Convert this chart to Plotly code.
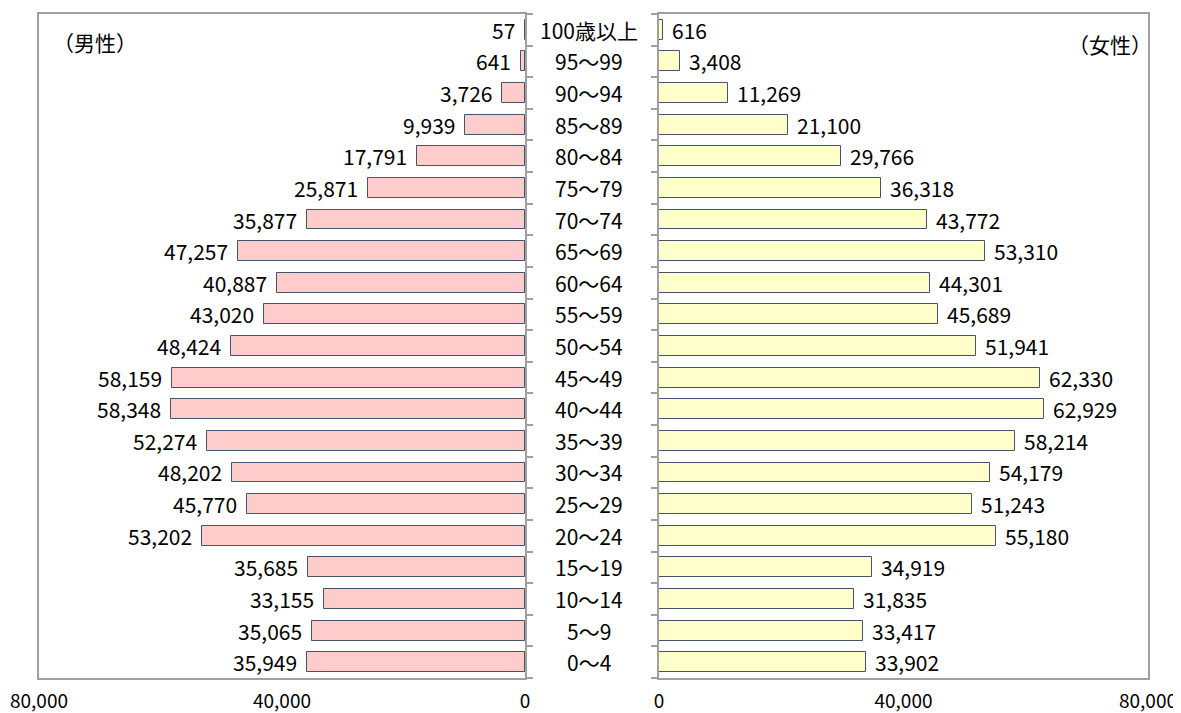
import plotly.graph_objects as go

age_groups = ["0～4", "5～9", "10～14", "15～19", "20～24", "25～29", "30～34",
              "35～39", "40～44", "45～49", "50～54", "55～59", "60～64", "65～69",
              "70～74", "75～79", "80～84", "85～89", "90～94", "95～99", "100歳以上"]
male = [35949, 35065, 33155, 35685, 53202, 45770, 48202, 52274, 58348, 58159,
        48424, 43020, 40887, 47257, 35877, 25871, 17791, 9939, 3726, 641, 57]
female = [33902, 33417, 31835, 34919, 55180, 51243, 54179, 58214, 62929, 62330,
          51941, 45689, 44301, 53310, 43772, 36318, 29766, 21100, 11269, 3408, 616]
x_ticks = [0, 40000, 80000]
x_tick_text = ["0", "40,000", "80,000"]
male_label = "（男性）"
female_label = "（女性）"

FONT = "Noto Sans CJK JP, Noto Sans, sans-serif"
FS = 21
FS_CAT = 21
FS_TICK = 19
# page has an 8px body margin; the figure fills the rest of the window
OFF = 8
W, H = 1181 - OFF, 713 - OFF


def px(xp):
    return (xp - OFF) / W


def py(yp):
    return 1 - (yp - OFF) / H


idx = list(range(len(age_groups)))

fig = go.Figure()
fig.add_trace(go.Bar(x=male, y=idx, orientation="h", xaxis="x", yaxis="y",
                     marker=dict(color="#FFCCCC", line=dict(color="#44546A", width=1)),
                     width=0.63, showlegend=False, hoverinfo="x"))
fig.add_trace(go.Bar(x=female, y=idx, orientation="h", xaxis="x2", yaxis="y2",
                     marker=dict(color="#FFFFCC", line=dict(color="#44546A", width=1)),
                     width=0.63, showlegend=False, hoverinfo="x"))

ann = []
for i, v in enumerate(male):
    ann.append(dict(x=v, y=i, xref="x", yref="y", text=f"{v:,}", showarrow=False,
                    xanchor="right", xshift=-8, font=dict(size=FS, color="black", family=FONT)))
for i, v in enumerate(female):
    ann.append(dict(x=v, y=i, xref="x2", yref="y2", text=f"{v:,}", showarrow=False,
                    xanchor="left", xshift=7, font=dict(size=FS, color="black", family=FONT)))
for i, lab in enumerate(age_groups):
    ann.append(dict(x=px(589), y=i, xref="paper", yref="y", text=lab, showarrow=False,
                    xanchor="center", font=dict(size=FS_CAT, color="black", family=FONT)))
ann.append(dict(x=px(95), y=py(42), xref="paper", yref="paper", text=male_label,
                showarrow=False, xanchor="center", yanchor="middle",
                font=dict(size=FS, color="black", family=FONT)))
ann.append(dict(x=px(1110), y=py(44), xref="paper", yref="paper", text=female_label,
                showarrow=False, xanchor="center", yanchor="middle",
                font=dict(size=FS, color="black", family=FONT)))

ydom = [py(678), py(14)]
line_col = "#A0A0A0"
yticks = [i - 0.5 for i in range(len(age_groups) + 1)]

common_x = dict(tickvals=x_ticks, ticktext=x_tick_text, showgrid=False, zeroline=False,
                showline=True, linecolor=line_col, linewidth=1.5, mirror=True, ticks="",
                tickfont=dict(size=FS_TICK, color="black", family=FONT), ticklabelstandoff=5,
                ticklabeloverflow="allow", automargin=False, fixedrange=True)
common_y = dict(range=[-0.5, len(age_groups) - 0.5], tickvals=yticks, showticklabels=False,
                showgrid=False, zeroline=False, showline=True, linecolor=line_col,
                linewidth=1.5, mirror=True, ticks="outside", ticklen=6, tickcolor=line_col,
                tickwidth=1.5, domain=ydom, automargin=False, fixedrange=True)

fig.update_layout(
    width=W, height=H,
    margin=dict(l=0, r=0, t=0, b=0, autoexpand=False),
    paper_bgcolor="white", plot_bgcolor="white",
    font=dict(family=FONT, color="black"),
    xaxis=dict(domain=[px(39), px(525)], range=[80000, 0], anchor="y", **common_x),
    xaxis2=dict(domain=[px(659), px(1148)], range=[0, 80000], anchor="y2", **common_x),
    yaxis=dict(anchor="x", side="right", **common_y),
    yaxis2=dict(anchor="x2", side="left", **common_y),
    annotations=ann,
    bargap=0,
)

fig.write_html("out.html")
